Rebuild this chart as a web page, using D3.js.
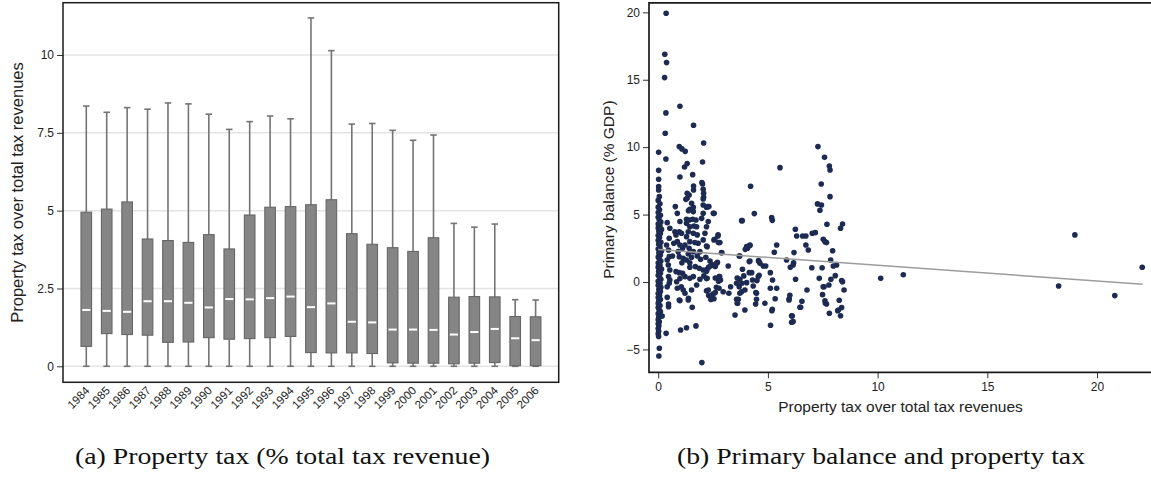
<!DOCTYPE html>
<html>
<head>
<meta charset="utf-8">
<script src="https://cdn.jsdelivr.net/npm/d3@7/dist/d3.min.js"></script>
<style>
  html, body { margin: 0; padding: 0; background: #fff; }
  svg { display: block; }
  text { font-family: "Liberation Sans", Arial, Helvetica, sans-serif; fill: #222; }
</style>
</head>
<body>
<svg id="chart" width="1151" height="482"></svg>
<script>
// ---------- Panel (a): box plot data ----------
const years = ["1984","1985","1986","1987","1988","1989","1990","1991","1992","1993","1994","1995","1996","1997","1998","1999","2000","2001","2002","2003","2004","2005","2006"];
const whiskerLow = [0,0,0,0,0,0,0,0,0,0,0,0,0,0,0,0,0,0,0,0,0,0,0];
const q1 =        [0.64,1.05,1.02,1.00,0.77,0.78,0.92,0.87,0.89,0.92,0.96,0.44,0.43,0.43,0.41,0.11,0.10,0.10,0.08,0.10,0.12,0.02,0.02];
const median =    [1.81,1.78,1.75,2.09,2.09,2.04,1.89,2.16,2.15,2.19,2.24,1.90,2.02,1.43,1.41,1.18,1.18,1.17,1.02,1.10,1.20,0.90,0.84];
const q3 =        [4.95,5.05,5.28,4.09,4.04,3.98,4.23,3.77,4.86,5.11,5.13,5.19,5.35,4.26,3.92,3.81,3.69,4.13,2.22,2.24,2.23,1.60,1.59];
const whiskerHigh=[8.36,8.16,8.31,8.26,8.46,8.43,8.10,7.61,7.86,8.04,7.95,11.19,10.14,7.78,7.80,7.58,7.26,7.43,4.59,4.47,4.57,2.14,2.13];
const yTicksA = [0, 2.5, 5, 7.5, 10];
const yTickLabelsA = ["0","2.5","5","7.5","10"];

// ---------- Panel (b): scatter data [property tax share, primary balance] ----------
const scatterPoints = [
  // column at zero property tax
  [0.02,9.62],[0.02,8.28],[0.02,7.62],[0.02,7.07],[0.02,6.82],[0.05,6.33],[0,6.05],[0.08,5.8],[0,5.55],[0.06,5.35],
  [0,5.15],[0.1,4.95],[0,4.8],[0.05,4.6],[0.12,4.45],[0,4.3],[0.08,4.15],[0,4.0],[0.15,3.9],[0.03,3.75],
  [0.1,3.6],[0,3.45],[0.06,3.3],[0,3.1],[0.12,2.95],[0.02,2.8],[0.08,2.6],[0,2.45],[0.15,2.3],[0.03,2.15],
  [0.1,2.0],[0,1.85],[0.05,1.7],[0.12,1.55],[0,1.4],[0.08,1.25],[0,1.1],[0.15,0.95],[0.02,0.8],[0.1,0.65],
  [0,0.5],[0.06,0.35],[0.12,0.2],[0,0.05],[0.08,-0.1],[0,-0.25],[0.12,-0.4],[0.03,-0.55],[0.1,-0.7],[0,-0.85],
  [0.06,-1.0],[0,-1.15],[0.1,-1.3],[0.02,-1.45],[0,-1.6],[0.08,-1.75],[0,-1.9],[0.04,-2.05],[0.1,-2.2],[0,-2.35],
  [0.12,-2.52],[0.02,-2.65],[0,-2.8],[0.05,-2.95],[0,-3.1],[0.03,-3.25],[0,-3.45],[0.02,-3.65],[0,-3.85],[0.02,-4.05],
  [0.05,-4.92],[0.03,-5.49],
  // high outliers near zero
  [0.36,19.93],[0.30,16.89],[0.38,16.27],[0.29,15.16],[0.35,12.54],[0.32,11.03],[0.35,9.12],
  // upper cluster 1-2
  [0.99,13.03],[0.96,10.04],[1.08,9.87],[1.23,9.69],[1.32,8.78],[1.20,8.53],[0.99,7.79],[1.61,11.62],[2.07,10.31],[2.02,8.90],
  [1.57,7.96],[1.61,7.12],[1.61,6.82],[1.99,7.37],[2.05,6.87],[2.07,6.58],[1.32,6.58],[1.26,6.13],[2.07,6.28],[2.05,5.71],
  // main cluster 0.3-2.4
  [0.36,-3.81],[1.02,-3.56],[1.29,-3.39],[1.72,-3.26],[0.47,-1.83],[0.47,-1.63],[0.41,-1.14],[0.99,-1.38],[1.37,-1.34],[1.55,-1.88],
  [0.18,-2.52],[1.99,-5.98],
  [0.53,0.15],[0.50,-0.10],[0.41,-0.35],[0.47,0.40],[0.53,0.89],[0.46,1.26],[0.41,1.63],[0.50,1.88],[0.65,1.93],[0.47,2.37],
  [0.38,2.74],[0.50,3.24],[0.53,3.98],[0.41,4.40],[0.78,5.59],[0.87,5.09],[0.99,4.48],[0.96,3.73],[1.06,3.61],[0.81,3.49],
  [0.87,2.99],[0.99,2.74],[1.11,2.50],[0.91,2.25],[0.96,1.88],[1.14,1.76],[1.08,1.43],[1.32,6.21],[1.41,6.45],[1.52,5.84],
  [1.44,5.39],[1.38,5.29],[1.60,5.54],[1.60,5.22],[1.29,4.65],[1.41,4.60],[1.57,4.65],[1.72,4.60],[1.29,4.35],[1.44,4.10],
  [1.63,4.15],[1.75,4.10],[1.37,3.73],[1.60,3.61],[1.78,3.49],[1.29,3.36],[1.44,2.99],[1.67,2.92],[1.22,2.74],[1.41,2.50],
  [1.60,2.25],[1.37,2.08],[1.52,1.83],[1.29,1.63],[1.44,1.43],[1.82,2.87],[1.90,2.25],[1.93,1.68],[1.78,1.93],[0.76,3.73],
  [0.71,2.87],[1.44,0.27],[1.60,0.40],[1.69,1.14],[1.87,1.01],[1.44,1.09],[1.22,0.40],[1.11,0.64],[0.96,0.69],[0.81,0.77],
  [0.99,0.25],[0.84,0.02],[1.05,-0.35],[0.87,-0.47],[1.14,-0.59],[1.22,-0.84],[1.38,-1.21],[0.96,-1.34],[1.75,-0.22],[1.52,-0.59],
  [1.98,4.72],[2.28,4.48],[2.20,4.10],[2.13,3.61],[2.05,3.12],[2.23,2.62],[2.17,1.83],[2.36,1.56],[2.66,1.38],[2.23,0.94],
  [2.05,0.89],[2.08,0.45],[2.23,0.27],[1.90,0.20],[2.28,-0.59],[2.36,-1.01],[2.54,-1.24],[2.60,-0.79],[2.51,5.09],[2.31,5.59],
  [2.20,5.54],[2.05,5.09],[2.02,7.27],[2.05,6.16],[2.25,5.59],[2.55,5.09],[2.73,3.49],[2.58,3.17],[2.81,2.92],[2.72,3.41],
  [2.54,3.12],[2.74,2.92],[2.89,2.18],[2.20,2.67],[2.89,2.17],
  [2.30,1.10],[2.45,1.30],[2.60,1.15],[2.70,1.45],[2.40,1.20],[2.20,0.80],[2.20,0.25],[2.20,-0.66],[2.50,-0.90],[2.30,-1.00],
  [2.40,-1.30],[2.60,0.30],[2.75,0.05],[2.65,-0.40],[2.80,0.40],[2.77,-0.47],[2.96,-0.72],[3.22,-0.84],[2.84,0.15],[2.78,0.40],
  // 3-5.5
  [3.19,1.19],[3.50,-2.45],[3.95,-2.08],[4.44,-1.63],[3.62,-1.58],[3.65,-1.29],[3.72,-0.84],[3.80,-0.72],[3.57,-1.28],[3.60,-1.58],
  [3.80,4.55],[4.38,5.07],[4.18,2.70],[4.07,2.50],[3.97,2.42],[3.69,1.93],[4.18,1.56],[4.57,1.58],[4.64,1.38],[4.79,1.19],
  [4.90,1.19],[3.84,0.94],[4.15,0.69],[4.30,0.15],[4.56,0.40],[4.33,-0.30],[4.45,-0.79],[4.03,-0.05],[3.81,-0.10],[3.95,-0.59],
  [3.57,-0.10],[3.69,-0.35],[3.30,-0.35],[3.72,0.20],[3.90,0.45],[3.60,0.30],[4.48,-0.84],[4.48,-1.28],[4.50,0.10],[4.60,0.50],
  [4.26,0.69],[4.07,2.62],[3.72,1.93],[4.15,1.51],[4.59,1.51],[4.86,-1.58],[4.03,2.62],[4.18,2.74],[3.83,4.55],
  [5.12,-3.21],[5.18,-2.13],[5.20,-2.03],[5.33,-1.24],[5.11,-0.47],[5.40,-0.47],[5.21,0.15],[5.11,0.69],[5.40,2.74],[5.29,2.20],
  [5.20,4.57],[5.17,4.77],[5.55,8.48],[4.21,7.10],
  // 5.8-8.5
  [6.08,-2.99],[6.08,-2.50],[5.97,-1.24],[6.00,-0.99],[6.26,0.20],[6.46,-1.88],[6.55,-1.43],[6.78,-0.59],[7.49,-0.94],[7.56,-0.35],
  [7.62,-1.58],[7.67,-1.63],[7.80,-2.32],[8.21,-2.08],[8.36,-1.90],[8.25,-1.36],[8.31,-2.50],[8.47,-0.59],[8.40,0.02],[8.36,0.10],
  [8.07,0.47],[8.13,1.26],[7.98,1.19],[7.86,1.63],[7.95,2.32],[7.67,2.92],[7.52,3.17],[7.69,4.28],[8.31,3.98],[8.40,4.30],
  [7.83,6.33],[7.43,7.27],[7.26,5.79],[7.44,5.71],[7.37,5.32],[7.16,3.66],[7.02,3.61],[7.34,0.27],[7.47,1.06],[7.00,1.06],
  [6.73,3.41],[6.58,3.41],[6.31,3.41],[6.25,3.91],[6.73,2.74],[6.84,2.37],[6.19,2.18],[6.17,1.43],[6.02,1.09],[5.85,1.63],
  [6.15,1.26],[7.52,-0.35],[7.78,-0.22],[7.60,-1.39],[8.18,-2.13],[7.87,0.20],[6.11,-2.52],[6.15,-2.94],[5.96,-1.34],[6.49,-1.88],
  [7.28,10.04],[7.58,9.25],[7.80,8.60],[7.83,8.31],[7.60,2.99],
  // far right
  [10.14,0.27],[11.17,0.54],[18.25,-0.30],[18.99,3.49],[20.81,-1.01],[22.06,1.09]
];
const fitLine = [[0, 2.40], [22.08, -0.17]];
const xTicksB = [0, 5, 10, 15, 20];
const yTicksB = [-5, 0, 5, 10, 15, 20];

const svg = d3.select("#chart");

// ================= Panel (a) =================
const A = {left: 63, right: 558.7, top: 2.7, bottom: 382.3};
const xA = d3.scaleLinear().domain([-1.14, 23.13]).range([A.left, A.right]);
const yA = d3.scaleLinear().domain([-0.514, 11.68]).range([A.bottom, A.top]);
const gA = svg.append("g");

gA.selectAll("line.grid").data(yTicksA).join("line")
  .attr("x1", A.left).attr("x2", A.right)
  .attr("y1", d => yA(d)).attr("y2", d => yA(d))
  .attr("stroke", "#e4e4e4").attr("stroke-width", 1.5);

const axA = gA.append("g").attr("transform", `translate(${A.left},0)`)
  .call(d3.axisLeft(yA).tickValues(yTicksA).tickFormat((d, i) => yTickLabelsA[i]).tickSize(6).tickPadding(3));
axA.select(".domain").remove();
axA.selectAll(".tick line").attr("stroke", "#333").attr("stroke-width", 1);
axA.selectAll(".tick text").attr("font-size", 12).attr("fill", "#222")
  .style("font-family", '"Liberation Sans", Arial, sans-serif');

const idx = d3.range(years.length);
const boxes = gA.selectAll("g.box").data(idx).join("g").attr("class", "box");
const bw = 10.6, capW = 6.5;
boxes.append("line")
  .attr("x1", i => xA(i)).attr("x2", i => xA(i))
  .attr("y1", i => yA(whiskerLow[i])).attr("y2", i => yA(whiskerHigh[i]))
  .attr("stroke", "#747474").attr("stroke-width", 1.6);
boxes.append("line")
  .attr("x1", i => xA(i) - capW / 2).attr("x2", i => xA(i) + capW / 2)
  .attr("y1", i => yA(whiskerHigh[i])).attr("y2", i => yA(whiskerHigh[i]))
  .attr("stroke", "#747474").attr("stroke-width", 1.6);
boxes.append("line")
  .attr("x1", i => xA(i) - capW / 2).attr("x2", i => xA(i) + capW / 2)
  .attr("y1", i => yA(whiskerLow[i])).attr("y2", i => yA(whiskerLow[i]))
  .attr("stroke", "#747474").attr("stroke-width", 1.6);
boxes.append("rect")
  .attr("x", i => xA(i) - bw / 2).attr("width", bw)
  .attr("y", i => yA(q3[i])).attr("height", i => yA(q1[i]) - yA(q3[i]))
  .attr("fill", "#858585").attr("stroke", "#666").attr("stroke-width", 1.1);
boxes.append("line")
  .attr("x1", i => xA(i) - bw / 2 + 1.2).attr("x2", i => xA(i) + bw / 2 - 1.2)
  .attr("y1", i => yA(median[i])).attr("y2", i => yA(median[i]))
  .attr("stroke", "#fff").attr("stroke-width", 2);

gA.append("rect").attr("x", A.left).attr("y", A.top)
  .attr("width", A.right - A.left).attr("height", A.bottom - A.top)
  .attr("fill", "none").attr("stroke", "#1a1a1a").attr("stroke-width", 1.5);

gA.selectAll("text.yr").data(idx).join("text").attr("class", "yr")
  .attr("transform", i => `translate(${xA(i) + 4},${A.bottom + 9}) rotate(-45)`)
  .attr("text-anchor", "end").attr("font-size", 11.5)
  .text(i => years[i]);

gA.append("text")
  .attr("transform", `translate(23,${(A.top + A.bottom) / 2}) rotate(-90)`)
  .attr("text-anchor", "middle").attr("font-size", 16.5)
  .text("Property tax over total tax revenues");

// ================= Panel (b) =================
const B = {left: 649, right: 1151, top: 2.9, bottom: 372.3};
const xB = d3.scaleLinear().domain([-0.42, 22.46]).range([B.left, B.right]);
const yB = d3.scaleLinear().domain([-6.7, 20.7]).range([B.bottom, B.top]);
const gB = svg.append("g");

gB.selectAll("circle").data(scatterPoints).join("circle")
  .attr("cx", d => xB(d[0])).attr("cy", d => yB(d[1])).attr("r", 2.8)
  .attr("fill", "#1d2b52");

gB.append("path").datum(fitLine)
  .attr("d", d3.line().x(d => xB(d[0])).y(d => yB(d[1])))
  .attr("stroke", "#9c9c9c").attr("stroke-width", 1.5).attr("fill", "none");

const axBy = gB.append("g").attr("transform", `translate(${B.left},0)`)
  .call(d3.axisLeft(yB).tickValues(yTicksB).tickFormat(d3.format("d")).tickSize(6).tickPadding(3));
const axBx = gB.append("g").attr("transform", `translate(0,${B.bottom})`)
  .call(d3.axisBottom(xB).tickValues(xTicksB).tickFormat(d3.format("d")).tickSize(6).tickPadding(4));
[axBy, axBx].forEach(ax => {
  ax.select(".domain").remove();
  ax.selectAll(".tick line").attr("stroke", "#333").attr("stroke-width", 1);
  ax.selectAll(".tick text").attr("font-size", 12).attr("fill", "#222")
    .style("font-family", '"Liberation Sans", Arial, sans-serif');
});
gB.append("path")
  .attr("d", `M${B.right},${B.top}H${B.left}V${B.bottom}H${B.right}`)
  .attr("fill", "none").attr("stroke", "#1a1a1a").attr("stroke-width", 1.7);

gB.append("text")
  .attr("transform", `translate(614,${(B.top + B.bottom) / 2 + 2}) rotate(-90)`)
  .attr("text-anchor", "middle").attr("font-size", 15.5)
  .text("Primary balance (% GDP)");
gB.append("text")
  .attr("x", 900.5).attr("y", 412)
  .attr("text-anchor", "middle").attr("font-size", 15.5)
  .text("Property tax over total tax revenues");

// ================= Captions =================
const capFont = '"Liberation Serif", "Times New Roman", serif';
svg.append("text")
  .attr("x", 75).attr("y", 464).attr("font-size", 23)
  .style("font-family", capFont).style("fill", "#111")
  .attr("textLength", 415).attr("lengthAdjust", "spacingAndGlyphs")
  .text("(a) Property tax (% total tax revenue)");
svg.append("text")
  .attr("x", 677).attr("y", 464).attr("font-size", 23)
  .style("font-family", capFont).style("fill", "#111")
  .attr("textLength", 408).attr("lengthAdjust", "spacingAndGlyphs")
  .text("(b) Primary balance and property tax");
</script>
</body>
</html>
